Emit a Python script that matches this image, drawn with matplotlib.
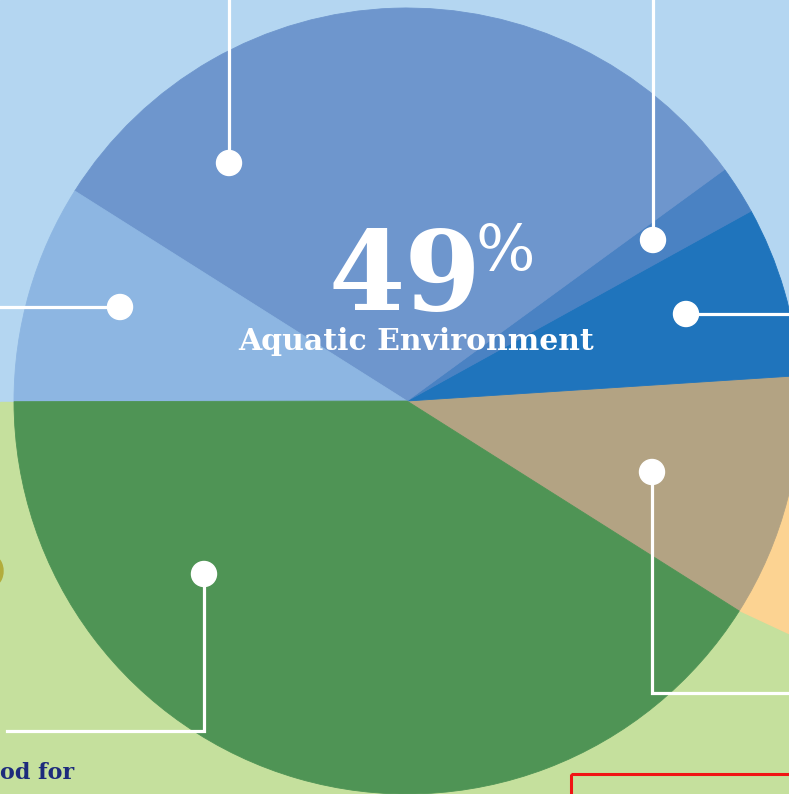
import matplotlib.pyplot as plt
from matplotlib.patches import Circle, Rectangle, Polygon, Ellipse

# pie shares, counter-clockwise from the tan/green boundary
slices = ['Land (tan)', 'Aquatic 1', 'Aquatic 2', 'Aquatic 3', 'Aquatic 4', 'Terrestrial']
shares = [10, 7, 2, 31, 9, 41]
colors = ['#b3a383', '#1f74bc', '#4a82c3', '#6e96cd', '#8db6e2', '#4f9455']
aquatic = [False, True, True, True, True, False]
headline = 'Aquatic Environment'

W, H = 789, 794
fig = plt.figure(figsize=(W / 100, H / 100), dpi=100)
ax = fig.add_axes([0, 0, 1, 1])

# background halves + orange wedge peeking out on the right
ax.add_patch(Rectangle((0, 0), W, 402, color='#b4d6f1', zorder=0))
ax.add_patch(Rectangle((0, 402), W, H - 402, color='#c5e09d', zorder=0))
ax.add_patch(Polygon([(700, 592), (820, 648), (820, 430), (700, 430)],
                     closed=True, color='#fcd392', zorder=1))
ax.add_patch(Ellipse((-6, 571), 18, 28, color='#b2ad3c', zorder=1))

# y axis is flipped, so go clockwise in data to get counter-clockwise on screen
wedges, _ = ax.pie(shares, colors=colors, startangle=32.3, counterclock=False,
                   center=(407, 401), radius=393, frame=True,
                   wedgeprops=dict(linewidth=0.6))
for w in wedges:
    w.set_edgecolor(w.get_facecolor())
    w.set_zorder(2)

# leader lines: dot, then path to the edge of the frame
leaders = [
    [(229, 163), (229, -5)],
    [(120, 307), (-5, 307)],
    [(653, 240), (653, -5)],
    [(686, 314), (800, 314)],
    [(652, 472), (652, 693), (800, 693)],
    [(204, 574), (204, 731), (7, 731)],
]
for pts in leaders:
    xs = [p[0] for p in pts]
    ys = [p[1] for p in pts]
    ax.plot(xs, ys, color='white', lw=2.3, solid_joinstyle='miter', zorder=3)
    ax.add_patch(Circle(pts[0], 12.5, color='white', zorder=4))

total = sum(s for s, a in zip(shares, aquatic) if a)
ax.text(405, 310, str(total), color='white', fontsize=79, fontweight='bold',
        family='DejaVu Serif', ha='center', va='baseline', zorder=5)
ax.text(476, 271, '%', color='white', fontsize=45, fontweight='normal',
        family='DejaVu Serif', ha='left', va='baseline', zorder=5)
ax.text(416, 350, headline, color='white', fontsize=21.5, fontweight='bold',
        family='DejaVu Serif', ha='center', va='baseline', zorder=5)

ax.text(0, 779, 'od for', color='#1d2b7c', fontsize=16, fontweight='bold',
        family='DejaVu Serif', ha='left', va='baseline', zorder=5)

ax.add_patch(Rectangle((571, 774), 260, 60, fill=False, edgecolor='#f01414',
                       lw=2.2, zorder=5))

ax.set_xlim(0, W)
ax.set_ylim(H, 0)
ax.set_aspect('equal')
ax.axis('off')

fig.savefig('out.png', dpi=100)
